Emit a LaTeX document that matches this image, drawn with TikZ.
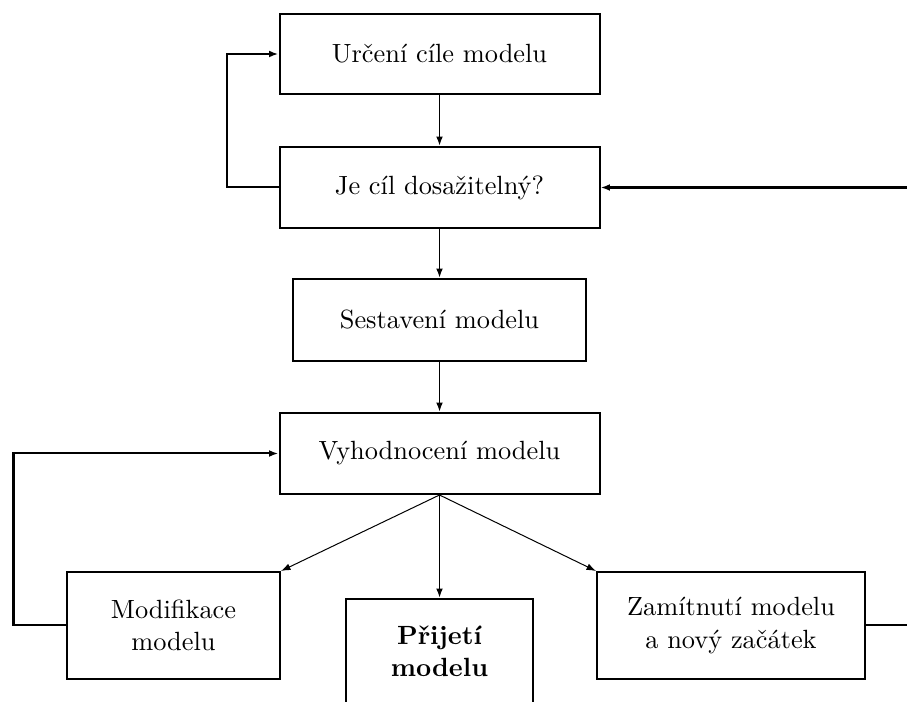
\documentclass[tikz,border=0pt]{standalone}
\usepackage{fontspec}
\usetikzlibrary{arrows.meta}
\begin{document}
\begin{tikzpicture}[x=0.3795pt,y=-0.3795pt,
  box/.style={draw,line width=0.76pt,inner sep=0pt,align=center,font=\fontsize{10}{12.2}\selectfont},
  conn/.style={line width=0.68pt,-{Latex[length=3.6pt,width=2.6pt]}},
  thinconn/.style={line width=0.38pt,-{Latex[length=3.6pt,width=2.6pt]}},
  loopline/.style={line width=0.76pt,-{Latex[length=3.6pt,width=2.6pt]}},
  farline/.style={line width=1.1pt,-{Latex[length=3.6pt,width=2.6pt]}}]
\clip (0,0) rectangle (907,702);
\node[box,minimum width=320*0.3795pt,minimum height=80*0.3795pt] (b1) at (439.5,54) {Určení cíle modelu};
\node[box,minimum width=320*0.3795pt,minimum height=81*0.3795pt] (b2) at (439.5,187.5) {Je cíl dosažitelný?};
\node[box,minimum width=293*0.3795pt,minimum height=82*0.3795pt] (b3) at (439.5,320) {Sestavení modelu};
\node[box,minimum width=320*0.3795pt,minimum height=81*0.3795pt] (b4) at (439.5,453.5) {Vyhodnocení modelu};
\node[box,minimum width=213*0.3795pt,minimum height=107*0.3795pt] (mod) at (173.5,625.5) {Modifikace\\modelu};
\node[box,minimum width=187*0.3795pt,minimum height=104*0.3795pt,font=\fontsize{10}{12.2}\selectfont\bfseries] (prij) at (439.5,651) {Přijetí\\modelu};
\node[box,minimum width=268*0.3795pt,minimum height=107*0.3795pt] (zam) at (731,625.5) {Zamítnutí modelu\\a nový začátek};
\coordinate (lt) at (227,187.5);
\coordinate (lb) at (13.5,625.5);
\coordinate (rr) at (940,625.5);
\draw[conn] (b1.south) -- (b2.north);
\draw[conn] (b2.south) -- (b3.north);
\draw[conn] (b3.south) -- (b4.north);
\draw[loopline] (b2.west) -- (lt) |- (b1.west);
\draw[loopline] (mod.west) -- (lb) |- (b4.west);
\draw[thinconn] (b4.south) -- (mod.north east);
\draw[conn] (b4.south) -- (prij.north);
\draw[thinconn] (b4.south) -- (zam.north west);
\draw[line width=0.76pt] (zam.east) -- (rr);
\draw[farline] (rr) |- (b2.east);
\end{tikzpicture}
\end{document}
